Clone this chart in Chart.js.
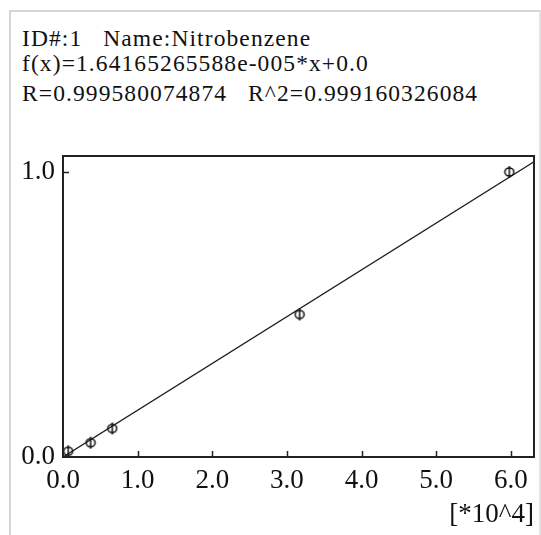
<!DOCTYPE html>
<html>
<head>
<meta charset="utf-8">
<script src="https://cdn.jsdelivr.net/npm/chart.js@4.4.0/dist/chart.umd.min.js"></script>
<style>
  body { margin: 0; background: #fff; }
  #wrap { position: relative; width: 541px; height: 535px; overflow: hidden; }
  #frame { position: absolute; left: 9px; top: 10px; width: 528px; height: 600px;
           border-left: 2px solid #d6d6d6; border-top: 2px solid #d6d6d6; border-right: 2px solid #e4e4e4; }
  .hd { position: absolute; left: 22px; font-family: "Liberation Serif", "Times New Roman", serif;
        font-size: 23.5px; letter-spacing: 1.1px; white-space: pre; color: #111; line-height: 1; }
  #mycanvas { position: absolute; left: 0; top: 0; }
</style>
</head>
<body>
<div id="wrap">
  <div id="frame"></div>
  <div class="hd" style="top:27px">ID#:1   Name:Nitrobenzene</div>
  <div class="hd" style="top:52px">f(x)=1.64165265588e-005*x+0.0</div>
  <div class="hd" style="top:82px">R=0.999580074874   R^2=0.999160326084</div>
  <canvas id="mycanvas" width="541" height="535"></canvas>
</div>
<script>
// standards, x in units of 10^4
var concX = [0.07, 0.37, 0.66, 3.17, 5.98];
var response = [0.02, 0.05, 0.10, 0.50, 1.00];
// fitted line end points
var fitX = [0, 6.31];
var fitY = [0, 1.036];
var xTicks = [0, 1, 2, 3, 4, 5, 6];
var yTicks = [0, 1];

var tickFont = { family: '"Liberation Serif", "Times New Roman", serif', size: 27 };

// marker: small circle with vertical bar
var mark = document.createElement('canvas');
mark.width = 12; mark.height = 14;
var mc = mark.getContext('2d');
mc.strokeStyle = '#111';
mc.lineWidth = 1.5;
mc.beginPath(); mc.ellipse(6, 7, 4.5, 4, 0, 0, Math.PI * 2); mc.stroke();
mc.beginPath(); mc.moveTo(6, 1); mc.lineTo(6, 13); mc.stroke();

var pts = [];
for (var i in concX) pts.push({ x: concX[i], y: response[i] });
var line = [];
for (var j in fitX) line.push({ x: fitX[j], y: fitY[j] });

var framePlugin = {
  id: 'frame',
  afterDraw: function(chart) {
    var c = chart.ctx, a = chart.chartArea;
    var xs = chart.scales.x, ys = chart.scales.y;
    c.save();
    c.strokeStyle = '#222';
    c.lineWidth = 2;
    c.strokeRect(a.left, a.top, a.right - a.left, a.bottom - a.top);
    c.beginPath();
    xTicks.forEach(function(v) {
      if (v === 0) return;
      var px = Math.round(xs.getPixelForValue(v)) + 0.5;
      c.moveTo(px, a.bottom); c.lineTo(px, a.bottom - 6);
    });
    yTicks.forEach(function(v) {
      if (v === 0) return;
      var py = Math.round(ys.getPixelForValue(v)) + 0.5;
      c.moveTo(a.left, py); c.lineTo(a.left + 6, py);
    });
    c.lineWidth = 1.5;
    c.stroke();
    c.restore();
  }
};

var ctx = document.getElementById('mycanvas');
var chart = new Chart(ctx, {
  type: 'scatter',
  data: {
    datasets: [
      {
        label: 'fit',
        data: line,
        showLine: true,
        borderColor: '#1a1a1a',
        borderWidth: 1.3,
        pointRadius: 0
      },
      {
        label: 'standards',
        data: pts,
        pointStyle: mark,
        pointRadius: 6
      }
    ]
  },
  plugins: [framePlugin],
  options: {
    responsive: false,
    animation: false,
    layout: { padding: { left: 0, top: 156, right: 6, bottom: 0 } },
    plugins: { legend: { display: false }, tooltip: { enabled: false } },
    scales: {
      x: {
        type: 'linear',
        min: 0, max: 6.31,
        afterBuildTicks: function(s) { s.ticks = xTicks.map(function(v) { return { value: v }; }); },
        afterFit: function(s) { s.height = 78; },
        grid: { display: false, drawTicks: false },
        border: { display: false },
        ticks: { color: '#111', font: tickFont, padding: 8, maxRotation: 0,
                 callback: function(v) { return v.toFixed(1); } },
        title: { display: true, text: '[*10^4]', align: 'end', color: '#111', font: tickFont,
                 padding: { top: 0, bottom: 4 } }
      },
      y: {
        type: 'linear',
        min: 0, max: 1.056,
        afterBuildTicks: function(s) { s.ticks = yTicks.map(function(v) { return { value: v }; }); },
        afterFit: function(s) { s.width = 63; },
        grid: { display: false, drawTicks: false },
        border: { display: false },
        ticks: { color: '#111', font: tickFont, padding: 8,
                 callback: function(v) { return v.toFixed(1); } }
      }
    }
  }
});
</script>
</body>
</html>
